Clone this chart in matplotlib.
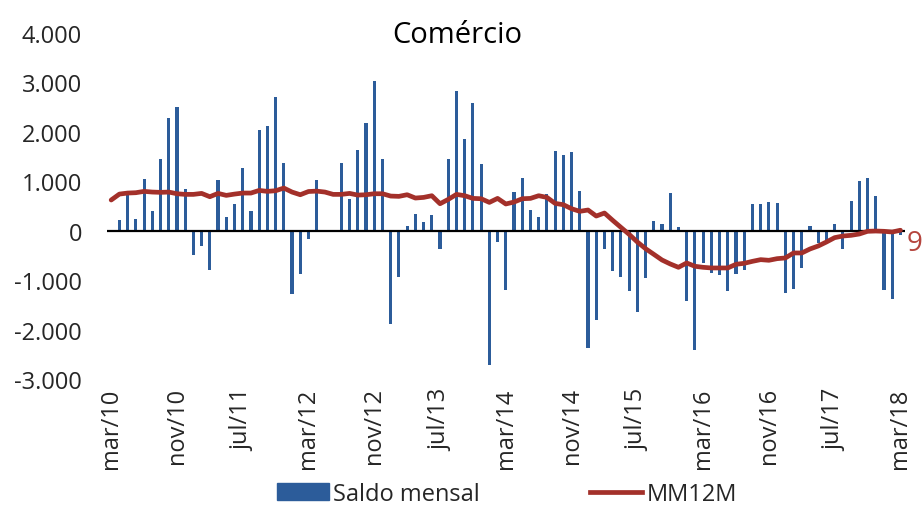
import numpy as np
import matplotlib
matplotlib.use('Agg')
import matplotlib.pyplot as plt
from matplotlib.lines import Line2D
from matplotlib.patches import Patch

plt.rcParams['font.family'] = ['Open Sans', 'DejaVu Sans']

# monthly labels mar/10 .. mar/18 (97 months), one tick every 8 months
meses = ['jan', 'fev', 'mar', 'abr', 'mai', 'jun', 'jul', 'ago', 'set', 'out', 'nov', 'dez']
labels = []
for i in range(97):
    m = (2 + i) % 12
    a = 10 + (2 + i) // 12
    labels.append('%s/%02d' % (meses[m], a))

saldo = [0, 208, 800, 236, 1037, 390, 1448, 2283, 2498, 848,
         -498, -310, -794, 1030, 270, 545, 1273, 390, 2040, 2121,
         2707, 1360, -1273, -883, -162, 1024, 0, 0, 1360, 633,
         1630, 2175, 3024, 1455, -1879, -936, 101, 343, 175, 310,
         -364, 1441, 2828, 1859, 2586, 1354, -2714, -229, -1199, 781,
         1071, 424, 276, 734, 1603, 1535, 1589, 801, -2370, -1805,
         -370, -815, -929, -1219, -1650, -949, 195, 128, 761, 67,
         -1414, -2418, -660, -862, -903, -1226, -875, -788, 539, 539,
         572, 566, -1259, -1178, -754, 101, -242, -182, 128, -377,
         606, 996, 1057, 701, -1205, -1374, -94]

mm12m = [620, 740, 761, 768, 795, 781, 775, 781, 747, 734,
         734, 754, 687, 754, 714, 740, 761, 761, 814, 795,
         808, 862, 781, 727, 792, 800, 781, 734, 734, 754,
         720, 727, 747, 747, 700, 694, 727, 660, 673, 707,
         545, 633, 734, 707, 653, 646, 572, 653, 540, 579,
         646, 653, 707, 673, 552, 525, 444, 391, 418, 296,
         357, 209, 67, -74, -229, -364, -478, -593, -673, -741,
         -653, -720, -741, -754, -754, -754, -680, -660, -620, -586,
         -599, -566, -552, -451, -451, -370, -310, -229, -141, -108,
         -94, -67, -13, -7, -13, -27, 9]

bar_color = '#2C5C9A'
line_color = '#A3302A'
text_color = '#262626'

fig = plt.figure(figsize=(9.23, 5.06), dpi=100)
ax = fig.add_axes([0.116, 0.249, 0.864, 0.684])

x = np.arange(len(saldo))
ax.bar(x, saldo, width=0.38, color=bar_color, zorder=2)
ax.axhline(0, color='black', lw=1.6, zorder=3)
ax.plot(x, mm12m, color=line_color, lw=3.4, zorder=4, solid_capstyle='round')
ax.text(x[-1] + 0.7, mm12m[-1] + 30, '%d' % mm12m[-1], color='#B5453E', fontsize=20,
        va='top', ha='left', clip_on=False)

ax.set_xlim(-0.5, 96.5)
ax.set_ylim(-3000, 4000)
ax.set_yticks(range(-3000, 4001, 1000))
ax.set_yticklabels(['{:,}'.format(v).replace(',', '.') for v in range(-3000, 4001, 1000)])
ax.set_xticks(x[::8])
ax.set_xticklabels(labels[::8], rotation=90)
ax.tick_params(axis='both', length=0, labelsize=17, colors=text_color)
ax.tick_params(axis='y', pad=18)
ax.tick_params(axis='x', pad=6)
for s in ax.spines.values():
    s.set_visible(False)

fig.text(0.495, 0.93, 'Comércio', fontsize=21, color='black', ha='center', va='center')

handles = [Patch(color=bar_color, label='Saldo mensal'),
           Line2D([0], [0], color=line_color, lw=3.4, label='MM12M')]
fig.legend(handles=handles, loc='center', bbox_to_anchor=(0.549, 0.022), ncol=2,
           frameon=False, fontsize=17, columnspacing=4.65, handlelength=2.2,
           handletextpad=0.2, labelcolor=text_color)

fig.savefig('out.png', dpi=100)
